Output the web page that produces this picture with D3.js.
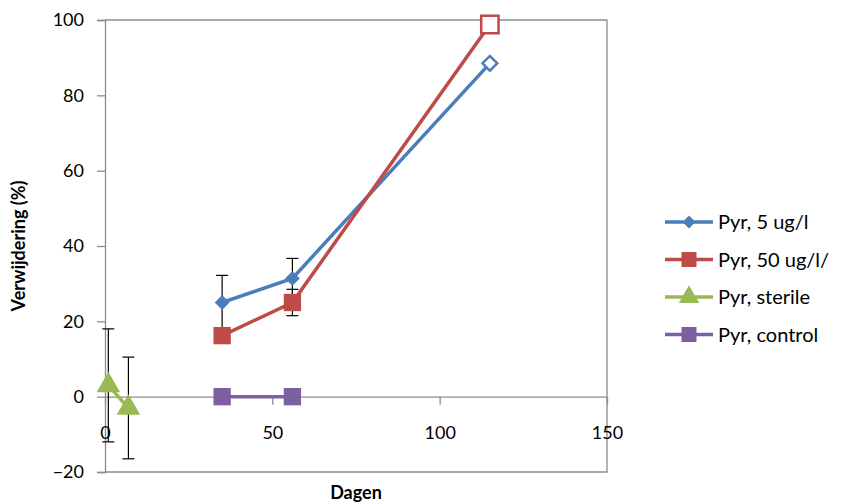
<!doctype html>
<html>
<head>
<meta charset="UTF-8">
<title>Verwijdering</title>
<script src="https://d3js.org/d3.v7.min.js"></script>
<style>
  body { margin: 0; background: #fff; }
  text { font-family: Lato, "Open Sans", sans-serif; fill: #000; }
</style>
</head>
<body>
<svg id="chart" width="847" height="504"></svg>
<script>
// data
var seriesNames = ["Pyr, 5 ug/l", "Pyr, 50 ug/l/", "Pyr, sterile", "Pyr, control"];
var colors = ["#4a7ebb", "#be4b48", "#98b954", "#7d60a0"];

var days5 = [35, 56, 115];
var pyr5 = [25, 31.4, 88.5];
var err5 = [7.2, 5.3, 0];

var days50 = [35, 56, 115];
var pyr50 = [16.2, 25, 98.8];
var err50 = [0, 3.5, 0];

var daysSterile = [1, 7];
var pyrSterile = [3, -3];
var errSterile = [15, 13.5];

var daysControl = [35, 56];
var pyrControl = [0, 0];

var xTicks = [0, 50, 100, 150];
var yTicks = [-20, 0, 20, 40, 60, 80, 100];

var svg = d3.select("#chart");
var x = d3.scaleLinear().domain([0, 150]).range([105, 607]);
var y = d3.scaleLinear().domain([-20, 100]).range([472, 20]);
var axisColor = "#8c8c8c";

// plot border (top / right / bottom)
svg.append("path")
  .attr("d", "M" + x(0) + "," + y(100) + "H" + x(150) + "V" + y(-20) + "H" + x(0))
  .attr("fill", "none").attr("stroke", axisColor).attr("stroke-width", 1.3);

// y axis
var yAxis = svg.append("g").attr("transform", "translate(" + x(0) + ",0)")
  .call(d3.axisLeft(y).tickValues(yTicks).tickSize(8).tickPadding(13));
yAxis.selectAll("path, line").attr("stroke", axisColor).attr("stroke-width", 1.3);
yAxis.selectAll("text").style("font-family", "Lato, sans-serif").style("font-size", "18px").attr("fill", "#000");

// x axis on the zero line
var xAxis = svg.append("g").attr("transform", "translate(0," + y(0) + ")")
  .call(d3.axisBottom(x).tickValues(xTicks).tickSize(8).tickPadding(22).tickSizeOuter(0));
xAxis.selectAll("path, line").attr("stroke", axisColor).attr("stroke-width", 1.3);
xAxis.selectAll("text").style("font-family", "Lato, sans-serif").style("font-size", "18px").attr("fill", "#000");

// axis titles
svg.append("text").attr("x", 356).attr("y", 499).attr("text-anchor", "middle")
  .style("font-size", "18px").style("font-weight", "bold").text("Dagen");
svg.append("text").attr("transform", "translate(25,246) rotate(-90)").attr("text-anchor", "middle")
  .style("font-size", "18px").style("font-weight", "bold").text("Verwijdering (%)");

var series = [
  { days: days5, vals: pyr5, err: err5, shape: d3.symbolSquare, size: 110, rot: 45 },
  { days: days50, vals: pyr50, err: err50, shape: d3.symbolSquare, size: 300, rot: 0 },
  { days: daysSterile, vals: pyrSterile, err: errSterile, shape: d3.symbolTriangle, size: 240, rot: 0 },
  { days: daysControl, vals: pyrControl, err: null, shape: d3.symbolSquare, size: 300, rot: 0 }
];

var line = d3.line().x(function (d) { return x(d[0]); }).y(function (d) { return y(d[1]); });

// error bars first
series.forEach(function (s) {
  if (!s.err) return;
  s.days.forEach(function (dd, i) {
    var e = s.err[i];
    if (!e) return;
    var g = svg.append("g").attr("stroke", "#000").attr("stroke-width", 1.2);
    g.append("line").attr("x1", x(dd)).attr("x2", x(dd)).attr("y1", y(s.vals[i] - e)).attr("y2", y(s.vals[i] + e));
    [s.vals[i] - e, s.vals[i] + e].forEach(function (v) {
      g.append("line").attr("x1", x(dd) - 6).attr("x2", x(dd) + 6).attr("y1", y(v)).attr("y2", y(v));
    });
  });
});

series.forEach(function (s, k) {
  var pts = s.days.map(function (dd, i) { return [dd, s.vals[i]]; });
  svg.append("path").attr("d", line(pts)).attr("fill", "none")
    .attr("stroke", colors[k]).attr("stroke-width", 3.5);
  svg.selectAll(null).data(pts).enter().append("path")
    .attr("transform", function (d) { return "translate(" + x(d[0]) + "," + y(d[1]) + ") rotate(" + s.rot + ")"; })
    .attr("d", d3.symbol().type(s.shape).size(s.size))
    .attr("fill", function (d) { return d[0] > 100 ? "#fff" : colors[k]; })
    .attr("stroke", colors[k])
    .attr("stroke-width", function (d) { return d[0] > 100 ? 2.5 : 0; });
});

// legend
var legend = svg.append("g");
seriesNames.forEach(function (name, k) {
  var ly = 222 + k * 37.5;
  legend.append("line").attr("x1", 665).attr("x2", 713).attr("y1", ly).attr("y2", ly)
    .attr("stroke", colors[k]).attr("stroke-width", 3.5);
  legend.append("path").attr("transform", "translate(689," + ly + ") rotate(" + series[k].rot + ")")
    .attr("d", d3.symbol().type(series[k].shape).size(series[k].size * 0.75))
    .attr("fill", colors[k]);
  legend.append("text").attr("x", 718).attr("y", ly + 7).style("font-size", "20px").text(name);
});
</script>
</body>
</html>
